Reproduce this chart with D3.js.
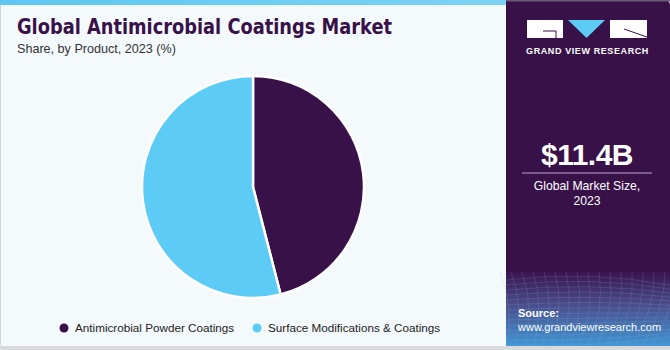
<!DOCTYPE html>
<html><head><meta charset="utf-8">
<script src="https://cdn.jsdelivr.net/npm/d3@7"></script>
<style>body{margin:0;background:#fff;}svg{display:block;font-family:"Liberation Sans",Arial,sans-serif;}</style>
</head><body>
<svg id="c" width="670" height="350"></svg>
<script>
const categories = ["Antimicrobial Powder Coatings", "Surface Modifications & Coatings"];
const values = [46, 54];
const colors = ["#381149", "#5ccbf5"];
const title = "Global Antimicrobial Coatings Market";
const subtitle = "Share, by Product, 2023 (%)";
const marketSize = "$11.4B";
const marketLabel = ["Global Market Size,", "2023"];

const svg = d3.select("#c");
const defs = svg.append("defs");
const g1 = defs.append("linearGradient").attr("id","src").attr("x1",0).attr("y1",0).attr("x2",0).attr("y2",1);
g1.append("stop").attr("offset","0").attr("stop-color","#3a1450");
g1.append("stop").attr("offset","0.45").attr("stop-color","#4a4f8c");
g1.append("stop").attr("offset","1").attr("stop-color","#3f9ad8");
const g2 = defs.append("linearGradient").attr("id","topbar").attr("x1",0).attr("x2",1);
g2.append("stop").attr("offset","0").attr("stop-color","#5cc8f2");
g2.append("stop").attr("offset","1").attr("stop-color","#7cd3f5");

// left panel
svg.append("rect").attr("x",0.5).attr("y",0).attr("width",520).attr("height",348).attr("rx",5).attr("fill","#f4f9fc").attr("stroke","#d0d4d8");
svg.append("rect").attr("x",0).attr("y",0).attr("width",506).attr("height",5).attr("fill","url(#topbar)");

// right panel
svg.append("rect").attr("x",506).attr("y",0).attr("width",164).attr("height",348).attr("rx",5).attr("fill","#381149");
svg.append("rect").attr("x",506).attr("y",0).attr("width",20).attr("height",348).attr("fill","#381149");
svg.append("rect").attr("x",506).attr("y",0).attr("width",164).attr("height",1.5).attr("fill","#6a5a78");
svg.append("rect").attr("x",506).attr("y",272).attr("width",164).attr("height",76).attr("fill","url(#src)");
// mesh lines
const mesh = svg.append("g").attr("stroke","#8fb6e6").attr("stroke-opacity",0.25).attr("fill","none").attr("stroke-width",0.7);
for (let i=0;i<14;i++){
  mesh.append("path").attr("d",`M506,${280+i*5} Q588,${270+i*6} 670,${285+i*4}`);
}
for (let i=0;i<18;i++){
  mesh.append("path").attr("d",`M${500+i*11},272 Q${515+i*10},310 ${506+i*9},348`);
}
svg.append("rect").attr("x",0).attr("y",346).attr("width",670).attr("height",4).attr("fill","#d8dadc");

// logo
const logo = svg.append("g");
logo.append("rect").attr("x",527).attr("y",20).attr("width",36).attr("height",18).attr("fill","#fff");
logo.append("path").attr("d","M543,31 L556,31 L556,38").attr("stroke","#381149").attr("fill","none").attr("stroke-width",1);
logo.append("path").attr("d","M568,20 L605,20 L586.5,38 Z").attr("fill","#5ccbf5");
logo.append("rect").attr("x",610).attr("y",20).attr("width",37).attr("height",18).attr("fill","#fff");
logo.append("path").attr("d","M624,29 L647,37").attr("stroke","#381149").attr("stroke-width",1);
svg.append("text").attr("x",587.5).attr("y",54).attr("text-anchor","middle").attr("fill","#fff").attr("font-size",9).attr("font-weight","bold").attr("letter-spacing",0.6).text("GRAND VIEW RESEARCH");

// market size
svg.append("text").attr("x",587).attr("y",165).attr("text-anchor","middle").attr("fill","#fff").attr("font-size",30).attr("font-weight","bold").attr("letter-spacing",-0.5).text(marketSize);
svg.append("line").attr("x1",522).attr("x2",652).attr("y1",173).attr("y2",173).attr("stroke","#b9a9c6").attr("stroke-width",1);
marketLabel.forEach((t,i)=>svg.append("text").attr("x",587).attr("y",190+i*15).attr("text-anchor","middle").attr("fill","#fff").attr("font-size",12.2).text(t));

// source
svg.append("text").attr("x",518).attr("y",317).attr("fill","#fff").attr("font-size",11).attr("font-weight","bold").text("Source:");
svg.append("text").attr("x",518).attr("y",331).attr("fill","#fff").attr("font-size",11).text("www.grandviewresearch.com");

// titles
svg.append("text").attr("x",17).attr("y",34).attr("fill","#381149").attr("font-size",21).attr("font-weight","900").attr("font-family","'DejaVu Sans',sans-serif")
  .attr("textLength",375).attr("lengthAdjust","spacingAndGlyphs").text(title);
svg.append("text").attr("x",17).attr("y",53).attr("fill","#333").attr("font-size",12.6).text(subtitle);

// pie
const pie = d3.pie().sort(null).value(d=>d)(values);
const arc = d3.arc().innerRadius(0).outerRadius(111);
svg.append("g").attr("transform","translate(253,187)")
  .selectAll("path").data(pie).join("path")
  .attr("d",arc).attr("fill",(d,i)=>colors[i]).attr("stroke","#fff").attr("stroke-width",2.5);

// legend
const leg = svg.append("g");
const lx = [64, 257];
categories.forEach((c,i)=>{
  leg.append("circle").attr("cx",lx[i]).attr("cy",328).attr("r",4.5).attr("fill",colors[i]);
  leg.append("text").attr("x",lx[i]+11).attr("y",332).attr("fill","#222").attr("font-size",11.7).text(c);
});
</script>
</body></html>
